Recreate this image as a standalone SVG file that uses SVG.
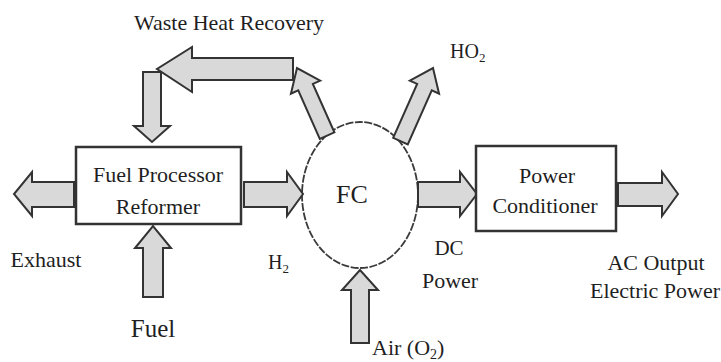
<svg xmlns="http://www.w3.org/2000/svg" width="721" height="362" viewBox="0 0 721 362">
<style>
.arrow{fill:#d9d9d9;stroke:#333;stroke-width:2;stroke-linejoin:miter}
.box{fill:#fff;stroke:#333;stroke-width:2.5}
.circ{fill:#fff;stroke:#3a3a3a;stroke-width:1.8;stroke-dasharray:8 1.5}
text{font-family:"Liberation Serif","Times New Roman",serif;fill:#1f1f1f;font-size:22px}
.c{text-anchor:middle}
</style>
<rect width="721" height="362" fill="#fff"/>
<g id="fc">
  <ellipse class="circ" cx="360" cy="195" rx="58" ry="73"/>
  <text class="c" x="352" y="203" style="font-size:26px">FC</text>
</g>
<g id="connectors">
  <polygon id="waste-down" class="arrow" points="143,72 161,72 161,126 170,126 152,142 134,126 143,126"/>
  <polygon id="waste-left" class="arrow" points="293,58 192,58 192,47 157,69 192,92 192,80 293,80"/>
  <polygon id="fc-to-waste" class="arrow" transform="translate(297,68) rotate(-24)" points="-8,74 -8,21 -16,21 0,0 16,21 8,21 8,74"/>
  <polygon id="fc-to-ho2" class="arrow" transform="translate(433,68) rotate(24)" points="-8,80 -8,21 -16,21 0,0 16,21 8,21 8,80"/>
  <polygon id="exhaust" class="arrow" points="74,182 32,182 32,172 14,194 32,216 32,207 74,207"/>
  <polygon id="h2" class="arrow" points="244,182 287,182 287,172 303,194 287,216 287,207 244,207"/>
  <polygon id="dc" class="arrow" points="418,182 460,182 460,172 477,194 460,216 460,207 418,207"/>
  <polygon id="ac" class="arrow" points="618,183 662,183 662,172 678,194 662,216 662,206 618,206"/>
  <polygon id="fuel-in" class="arrow" points="143,297 143,248 135,248 153,226 171,248 163,248 163,297"/>
  <polygon id="air-in" class="arrow" points="351,343 351,290 342,290 360,270 378,290 369,290 369,343"/>
</g>
<g id="fuel-processor">
  <rect class="box" x="76" y="147" width="165" height="77"/>
  <text class="c" x="158" y="182">Fuel Processor</text>
  <text class="c" x="158" y="214">Reformer</text>
</g>
<g id="power-conditioner">
  <rect class="box" x="476" y="146" width="140" height="85"/>
  <text class="c" x="547" y="183">Power</text>
  <text class="c" x="545" y="213">Conditioner</text>
</g>
<g id="labels">
  <text class="c" x="229" y="30">Waste Heat Recovery</text>
  <text x="450" y="58" style="font-size:20px">HO<tspan style="font-size:13px" dy="4">2</tspan></text>
  <text class="c" x="46" y="267">Exhaust</text>
  <text class="c" x="153" y="337" style="font-size:25px">Fuel</text>
  <text x="268" y="269" style="font-size:20px">H<tspan style="font-size:13px" dy="4">2</tspan></text>
  <text class="c" x="449" y="255" style="font-size:21px">DC</text>
  <text class="c" x="450" y="288">Power</text>
  <text class="c" x="656" y="270">AC Output</text>
  <text class="c" x="655" y="298">Electric Power</text>
  <text x="372" y="355">Air (O<tspan style="font-size:14px" dy="4">2</tspan><tspan dy="-4">)</tspan></text>
</g>
</svg>
